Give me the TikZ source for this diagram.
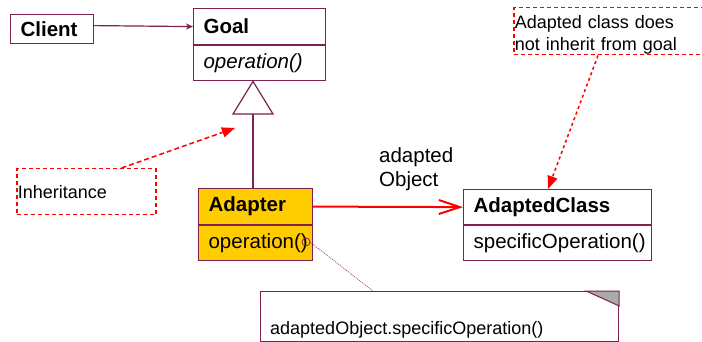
\documentclass[tikz,border=0pt]{standalone}
\usepackage{fontspec}
\setmainfont{Liberation Sans}
\usetikzlibrary{positioning,arrows.meta}
\hyphenpenalty=10000
\definecolor{umlline}{RGB}{128,32,80}
\definecolor{adaptfill}{RGB}{255,204,0}
\definecolor{foldgray}{RGB}{170,170,170}
\tikzset{
    classpart/.style={draw=umlline, line width=1.2pt, anchor=north west,
        inner xsep=10pt, inner ysep=0pt, align=left,
        font=\fontsize{20.5}{24}\selectfont},
    rednote/.style={draw=red, line width=1.5pt, dash pattern=on 4pt off 3pt,
        anchor=north west, inner xsep=1pt, inner ysep=0pt, align=left,
        font=\fontsize{18}{22.5}\selectfont},
    redlink/.style={red, line width=1.5pt, -{Triangle[length=13pt,width=10pt]}}
}

\begin{document}
\begin{tikzpicture}[x=1pt,y=-1pt]
        \useasboundingbox (0,0) rectangle (702,342);
        % classes
        \node[classpart, text width=63pt, minimum height=29pt] (client) at (10,14) {\textbf{Client}};
        \node[classpart, text width=112pt, minimum height=36pt] (goalhead) at (193,8) {\textbf{Goal}};
        \node[classpart, text width=112pt, minimum height=35pt] (goalbody) at (goalhead.south west) {\textit{operation()}};
        \node[classpart, fill=adaptfill, text width=94pt, minimum height=36pt] (adaphead) at (198,188) {\textbf{Adapter}};
        \node[classpart, fill=adaptfill, text width=94pt, minimum height=35pt] (adapbody) at (adaphead.south west) {operation()};
        \node[classpart, text width=168pt, minimum height=35pt] (adaptedhead) at (463,189) {\textbf{AdaptedClass}};
        \node[classpart, text width=168pt, minimum height=35pt] (adaptedbody) at (adaptedhead.south west) {specificOperation()};
        % client uses goal
        \draw[umlline, line width=1.2pt, -{Stealth[length=7pt,width=6pt,inset=2pt]}] ([yshift=3.5pt]client.east) -- (goalhead.west);
        % inheritance
        \coordinate (tri) at (253,114);
        \filldraw[draw=umlline, fill=white, line width=1.2pt] ([xshift=-20pt]tri) -- (goalbody.south -| tri) -- ([xshift=20pt]tri) -- cycle;
        \draw[umlline, line width=1.2pt] (tri) -- (tri |- adaphead.north);
        % association
        \draw[red, line width=2pt, -{Straight Barb[length=21pt,width=14pt]}] (adaphead.east) -- (adaptedhead.west);
        \node[anchor=north west, align=left, inner sep=0pt, font=\fontsize{20.5}{24}\selectfont] (objlabel) at (379,147) {adapted\\Object};
        % notes
        \node[rednote, text width=137pt, minimum height=46pt] (inhnote) at (16,168) {Inheritance};
        \coordinate (inhtip) at (235,128);
        \draw[redlink, dash pattern=on 5pt off 3pt] ([xshift=-35pt]inhnote.north east) -- (inhtip);
        \node[rednote, text width=189pt, minimum height=47pt] (goalnote) at (513,7) {\rule{0pt}{20.5pt}Adapted class does\\not inherit from goal};
        \draw[redlink, dash pattern=on 3pt off 3pt] ([xshift=85pt]goalnote.south west) -- ([xshift=85pt]adaptedhead.north west);
        \node[draw=umlline, line width=1.2pt, anchor=north west, minimum width=358pt, minimum height=50pt, inner sep=0pt] (codenote) at (260,291) {};
        \filldraw[draw=umlline, fill=foldgray, line width=1pt] ([xshift=-33pt]codenote.north east) -- (codenote.north east) -- ([yshift=-15pt]codenote.north east) -- cycle;
        \node[anchor=base west, inner sep=0pt, font=\fontsize{18}{22}\selectfont] (codetext) at ([xshift=10pt,yshift=8pt]codenote.south west) {adaptedObject.specificOperation()};
        \coordinate (opdot) at (306,242);
        \draw[umlline, line width=0.8pt] (opdot) circle (4pt);
        \draw[umlline, line width=0.6pt, dash pattern=on 1pt off 1pt] ([xshift=4pt]opdot) -- ([xshift=113pt]codenote.north west);
\end{tikzpicture}
\end{document}
